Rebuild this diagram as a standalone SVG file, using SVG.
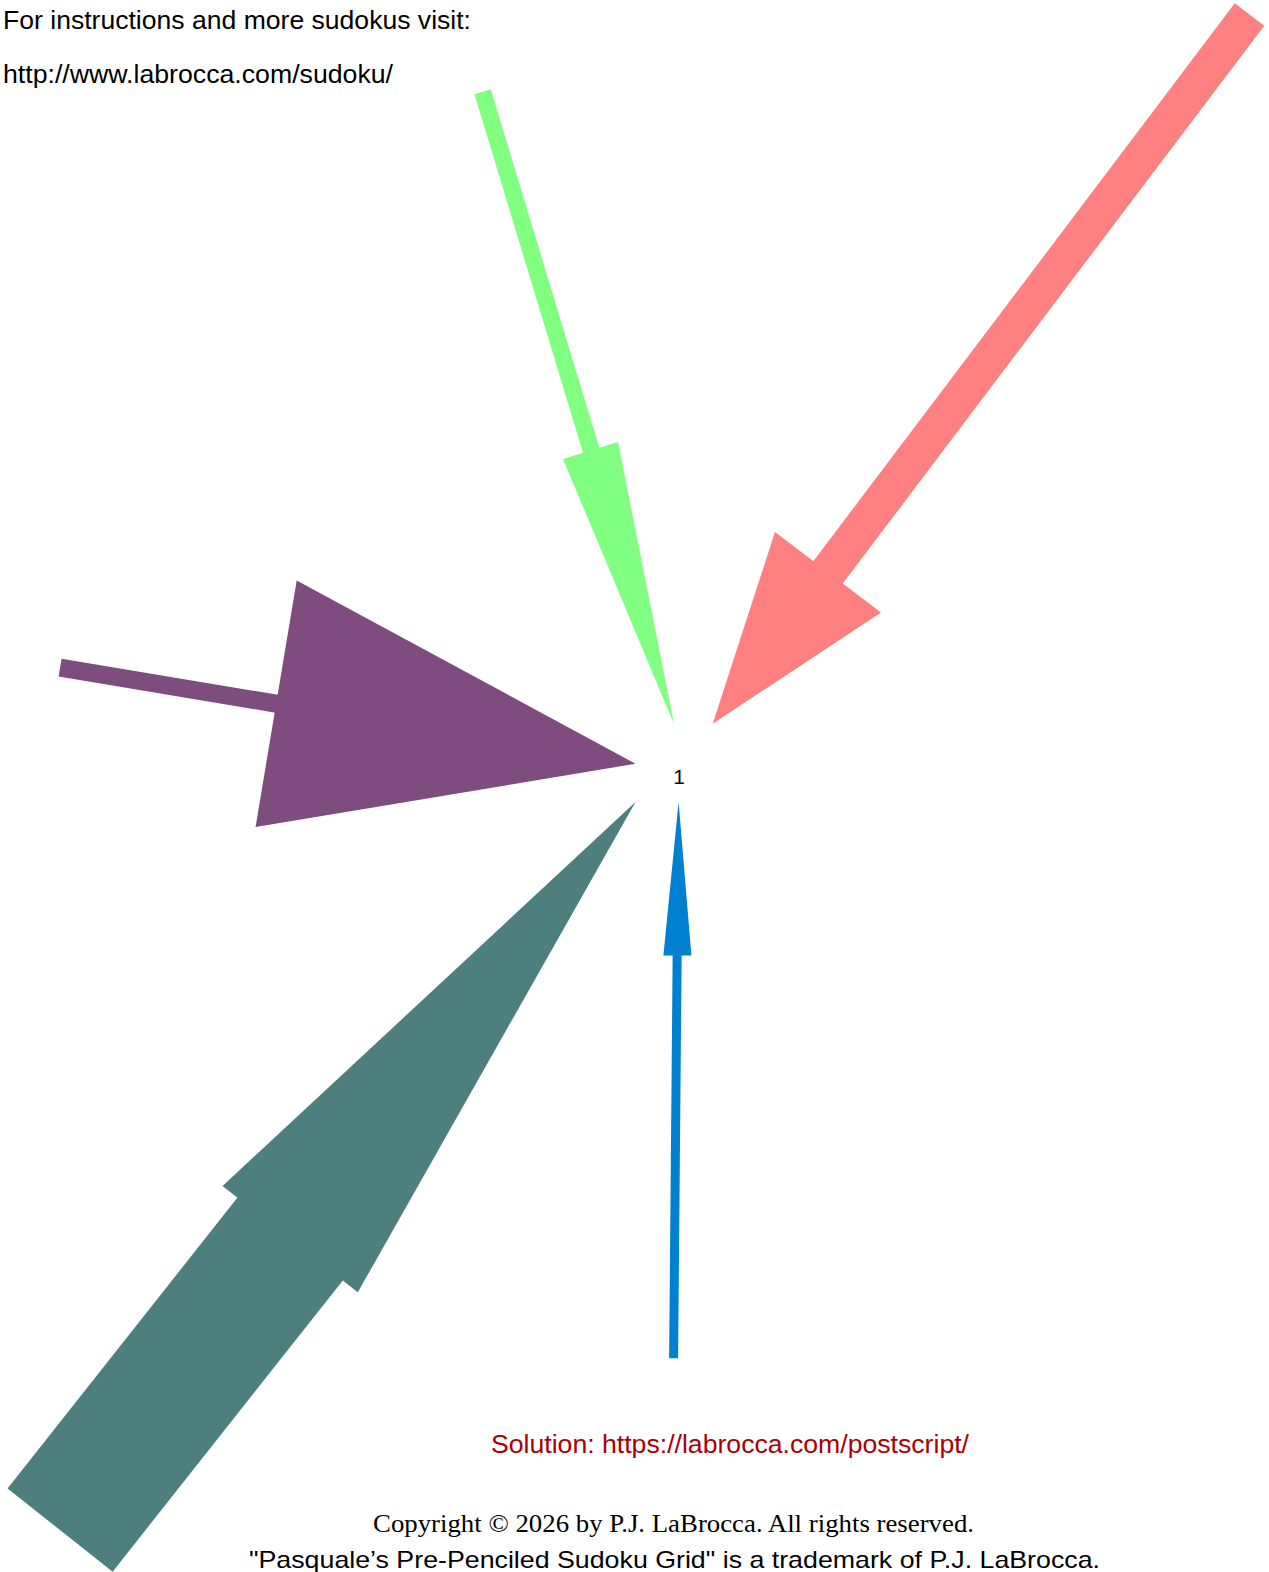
<svg xmlns="http://www.w3.org/2000/svg" width="1269" height="1572" viewBox="0 0 1269 1572">
<style>
.sans{font-family:"Liberation Sans",Arial,sans-serif;}
.serif{font-family:"Liberation Serif","Times New Roman",serif;}
.shaft{fill:none;stroke-linecap:butt;}
</style>
<rect width="1269" height="1572" fill="#ffffff"/>
<g id="header">
<text class="sans" x="3" y="29" font-size="25" textLength="468" lengthAdjust="spacingAndGlyphs" fill="#000">For instructions and more sudokus visit:</text>
<text class="sans" x="3" y="83" font-size="25" textLength="390" lengthAdjust="spacingAndGlyphs" fill="#000">http://www.labrocca.com/sudoku/</text>
</g>
<g id="connectors">
<g id="edge-green">
<line class="shaft" x1="482.6" y1="91.7" x2="592.5" y2="454.8" stroke="#80ff80" stroke-width="17"/>
<polygon points="563,459 618,442 674,724" fill="#80ff80"/>
</g>
<g id="edge-red">
<line class="shaft" x1="1249.5" y1="14.5" x2="825" y2="576.4" stroke="#ff8080" stroke-width="37"/>
<polygon points="775,532 881,612.5 712.7,723.7" fill="#ff8080"/>
</g>
<g id="edge-purple">
<line class="shaft" x1="60.1" y1="667.6" x2="281" y2="704.5" stroke="#7f4c7f" stroke-width="18"/>
<polygon points="296.7,580.4 255.6,827 635.5,763.8" fill="#7f4c7f"/>
</g>
<g id="edge-teal">
<line class="shaft" x1="60.1" y1="1530.1" x2="296.4" y2="1231.1" stroke="#4d7f7f" stroke-width="134"/>
<polygon points="222.5,1186 357.8,1292.3 635.5,802" fill="#4d7f7f"/>
</g>
<g id="edge-blue">
<line class="shaft" x1="673.6" y1="1358.3" x2="677.2" y2="950" stroke="#0080d0" stroke-width="9"/>
<polygon points="663.4,955.4 691.4,955.4 678.6,802" fill="#0080d0"/>
</g>
</g>
<g id="node-1">
<text class="sans" x="679" y="783.5" font-size="21" text-anchor="middle" fill="#000">1</text>
</g>
<g id="footer">
<text class="sans" x="491" y="1453" font-size="25" textLength="478" lengthAdjust="spacingAndGlyphs" fill="#aa0000">Solution: https://labrocca.com/postscript/</text>
<text class="serif" x="373" y="1531.5" font-size="25" textLength="601" lengthAdjust="spacingAndGlyphs" fill="#000">Copyright © 2026 by P.J. LaBrocca. All rights reserved.</text>
<text class="sans" x="249" y="1567.5" font-size="24" textLength="851" lengthAdjust="spacingAndGlyphs" fill="#000">"Pasquale’s Pre-Penciled Sudoku Grid" is a trademark of P.J. LaBrocca.</text>
</g>
</svg>
